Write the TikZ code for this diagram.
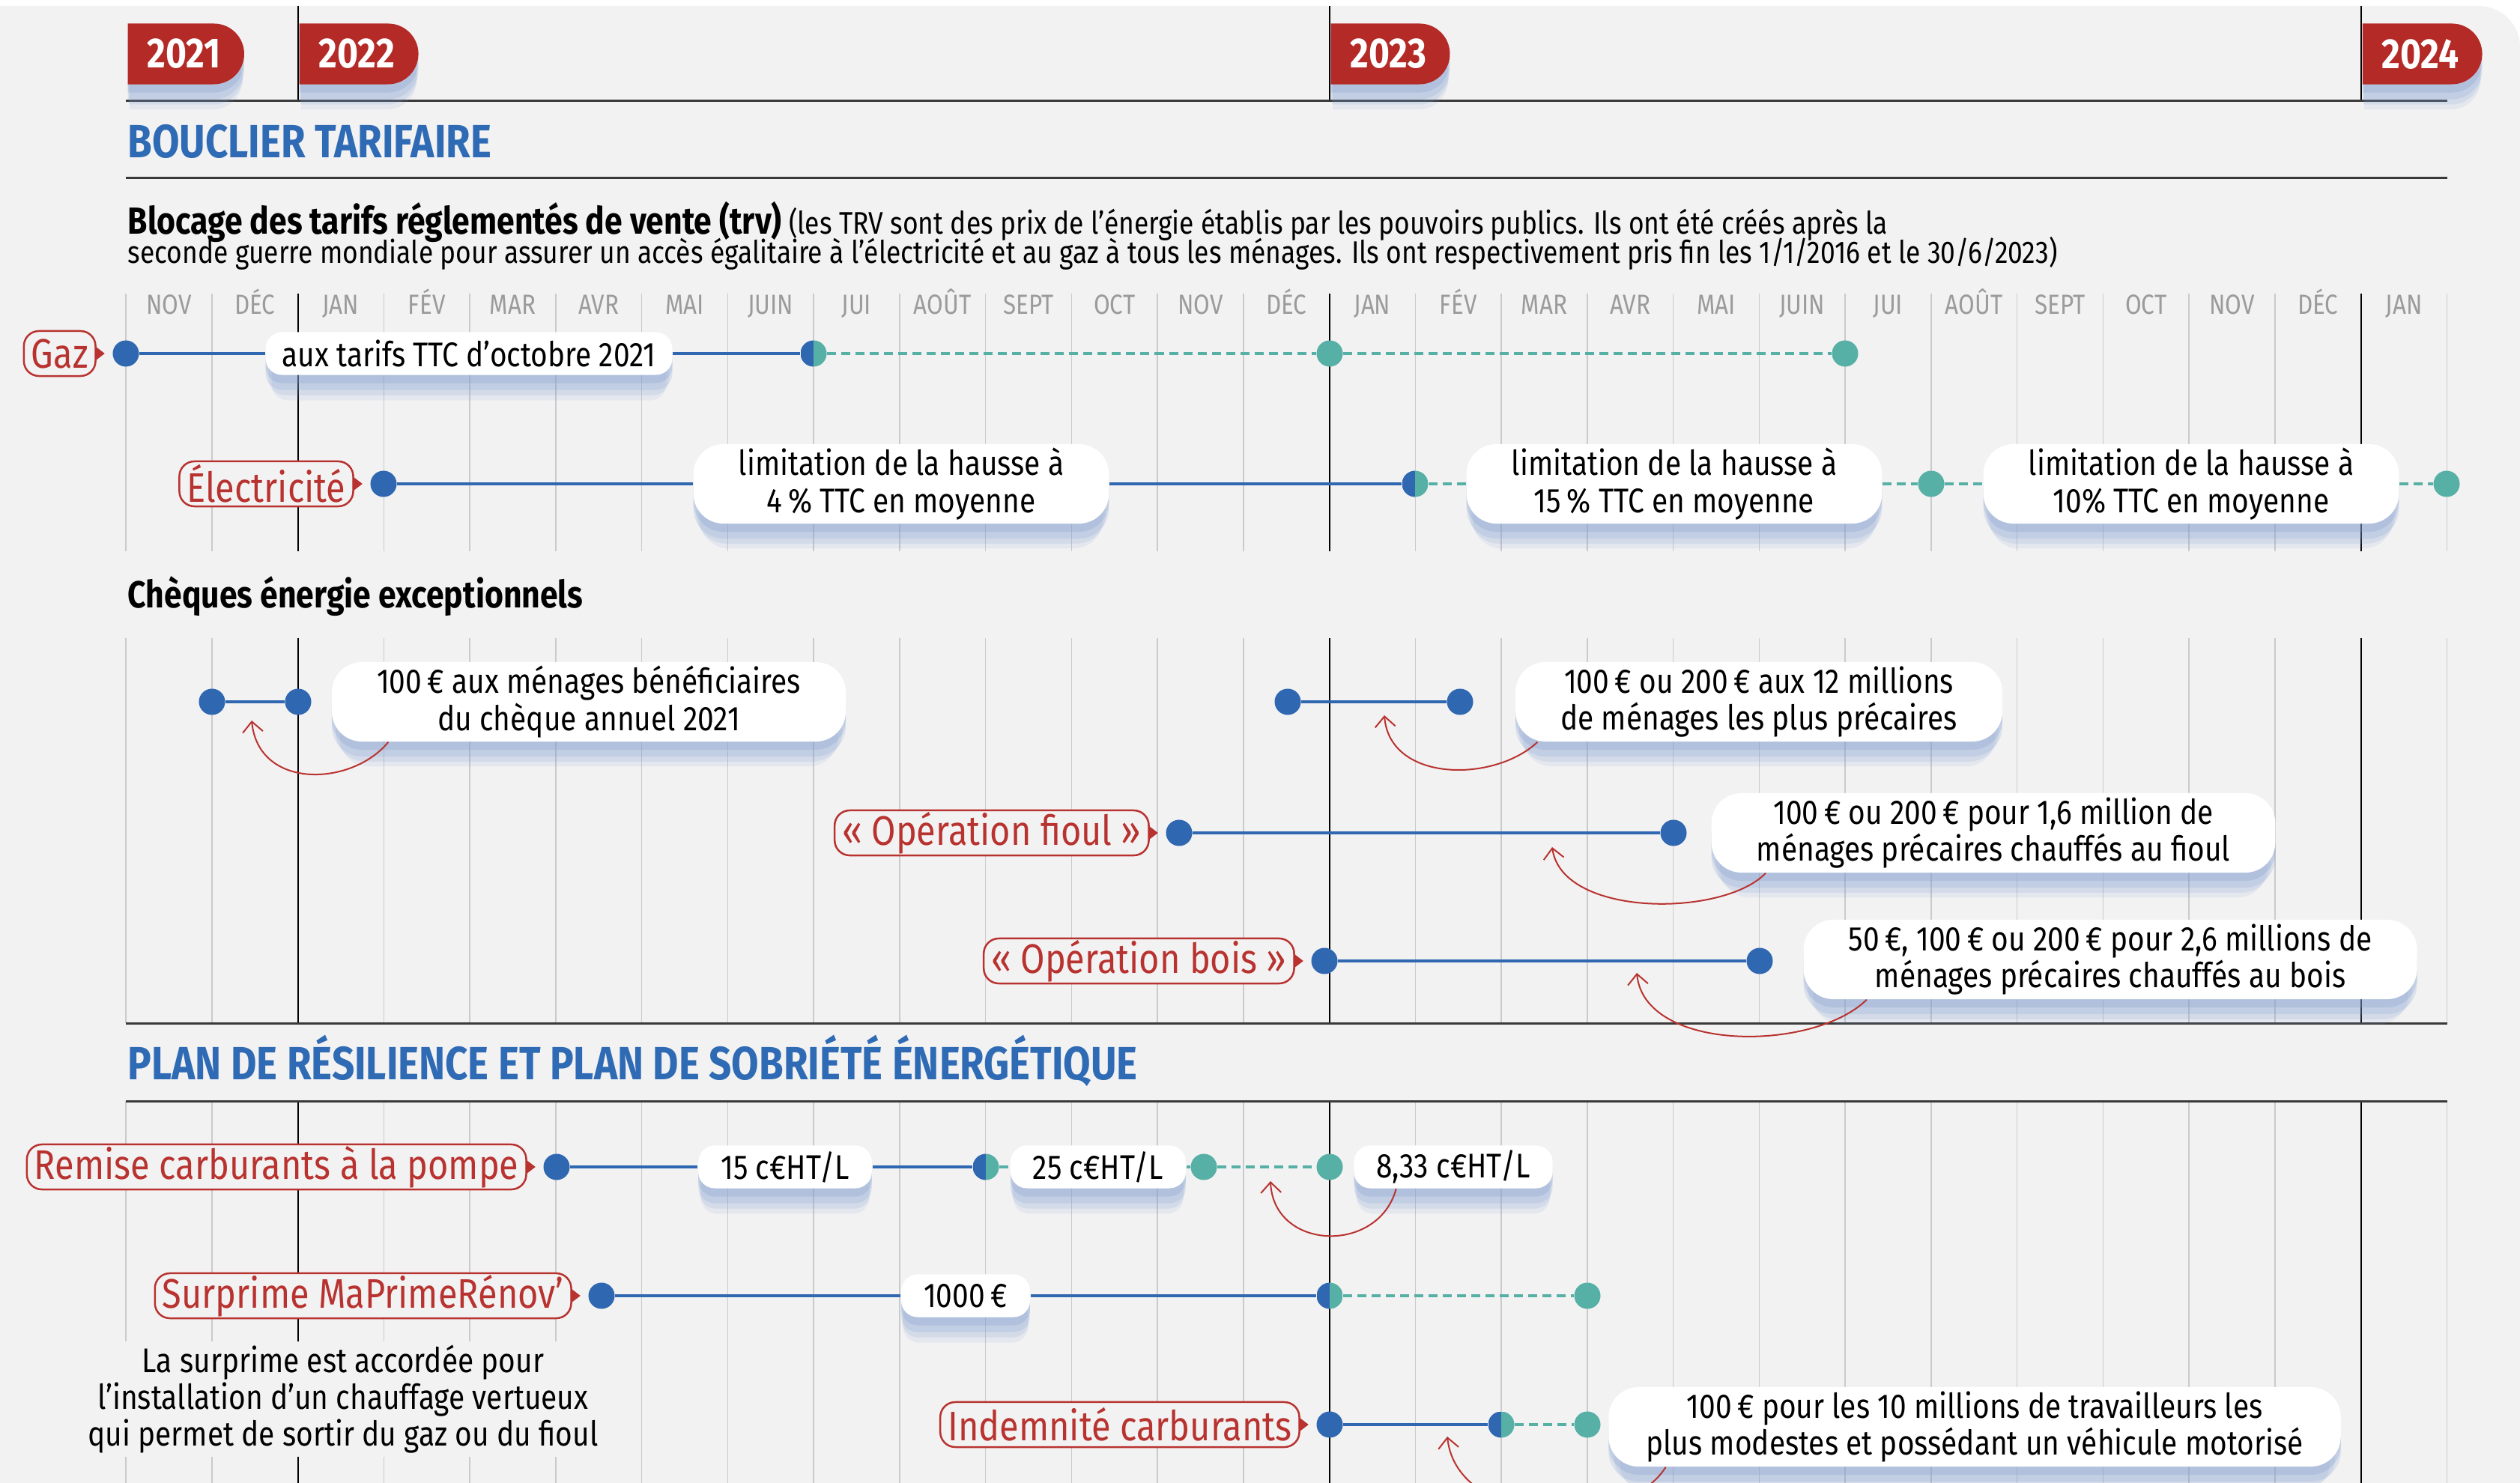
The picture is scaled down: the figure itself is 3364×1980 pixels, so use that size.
\documentclass[tikz,border=0pt]{standalone}
\usepackage{fontspec}
\setmainfont{Fira Sans}[FakeStretch=0.85]
\usepackage{tikz}
\usetikzlibrary{positioning,shapes.misc,shadows,arrows.meta}

\definecolor{bg}{HTML}{F3F2F3}
\definecolor{yearred}{HTML}{B42A26}
\definecolor{tagred}{HTML}{B8332F}
\definecolor{dotblue}{HTML}{2F67B1}
\definecolor{dotteal}{HTML}{57B0A5}
\definecolor{gridgrey}{HTML}{CAC9CC}
\definecolor{monthgrey}{HTML}{9B9B9B}
\definecolor{headblue}{HTML}{2F6BB5}
\definecolor{shadowblue}{HTML}{7F9ECF}
\definecolor{rulegrey}{HTML}{3A3A3A}

\newcommand{\boxfont}{\fontsize{13}{14}\selectfont}
\newcommand{\tagfont}{\fontsize{15.7}{16}\selectfont}
\newcommand{\monthfont}{\fontsize{10.5}{12}\selectfont}
\newcommand{\introfont}{\fontsize{11.85}{13}\selectfont}
\newcommand{\leadfont}{\fontsize{14.3}{15}\selectfont\bfseries}
\newcommand{\headfont}{\fontsize{17.7}{18}\selectfont\bfseries}
\newcommand{\yearfont}{\fontsize{16}{17}\selectfont\bfseries}

\begin{document}
\begin{tikzpicture}[x=0.01cm, y=-0.01cm,
    softshadow/.style={
        general shadow={shadow yshift=-0.36cm, shadow scale=0.97, fill=shadowblue, opacity=0.12},
        general shadow={shadow yshift=-0.28cm, shadow scale=0.985, fill=shadowblue, opacity=0.16},
        general shadow={shadow yshift=-0.20cm, fill=shadowblue, opacity=0.20},
        general shadow={shadow yshift=-0.11cm, fill=shadowblue, opacity=0.25}},
    gridline/.style={draw=gridgrey, line width=0.015cm},
    yearline/.style={draw=black, line width=0.02cm},
    rule/.style={draw=rulegrey, line width=0.03cm},
    monthlab/.style={text=monthgrey, font=\monthfont, anchor=base, inner sep=0pt},
    yeartag/.style={shape=rounded rectangle, rounded rectangle left arc=none, fill=yearred,
        text=white, font=\yearfont, minimum height=0.81cm, inner xsep=0.26cm, anchor=west, softshadow},
    tagbox/.style={draw=tagred, line width=0.025cm, fill=bg, text=tagred, rounded corners=0.2cm,
        minimum height=0.6cm, inner xsep=0.1cm, inner ysep=0pt, font=\tagfont},
    box/.style={fill=white, rounded corners=0.22cm, minimum height=0.57cm, inner xsep=0.3cm,
        inner ysep=0pt, font=\boxfont, softshadow},
    bigbox/.style={box, rounded corners=0.4cm, minimum height=1.06cm, inner xsep=0.6cm, align=center},
    dot/.style={circle, fill=dotblue, minimum size=0.35cm, inner sep=0pt},
    tdot/.style={dot, fill=dotteal},
    halfdot/.style={circle, minimum size=0.35cm, inner sep=0pt, path picture={
        \fill[dotblue] (path picture bounding box.south west) rectangle (path picture bounding box.north);
        \fill[dotteal] (path picture bounding box.south) rectangle (path picture bounding box.north east);}},
    bline/.style={draw=dotblue, line width=0.045cm},
    tline/.style={draw=dotteal, line width=0.045cm, dash pattern=on 0.12cm off 0.07cm},
    redarrow/.style={draw=tagred, line width=0.02cm, -{Straight Barb[length=0.14cm, width=0.27cm]}}]

    % page and panel
    \useasboundingbox (0,0) rectangle (3364,1980);
    \fill[white] (0,0) rectangle (3364,1980);
    \fill[bg, rounded corners=0.55cm] (-100,2100) -- (-100,8) -- (3364,8) -- (3364,2100) -- cycle;

    % month grid
    \foreach \k in {0,...,27}{
        \pgfmathsetmacro{\xk}{168+114.75*\k}
        \draw[gridline] (\xk,392) -- (\xk,736);
        \draw[gridline] (\xk,852) -- (\xk,1366);
        \draw[gridline] (\xk,1470) -- (\xk,1990);
    };
    \foreach \k in {2,14,26}{
        \pgfmathsetmacro{\xk}{168+114.75*\k}
        \draw[yearline] (\xk,8) -- (\xk,135);
        \draw[yearline] (\xk,392) -- (\xk,736);
        \draw[yearline] (\xk,852) -- (\xk,1366);
        \draw[yearline] (\xk,1470) -- (\xk,1990);
    };
    \foreach \lab [count=\k from 0] in {NOV,DÉC,JAN,FÉV,MAR,AVR,MAI,JUIN,JUI,AOÛT,SEPT,OCT,NOV,DÉC,JAN,FÉV,MAR,AVR,MAI,JUIN,JUI,AOÛT,SEPT,OCT,NOV,DÉC,JAN}{
        \pgfmathsetmacro{\xk}{168+114.75*\k+57.4}
        \node[monthlab] at (\xk,420) {\lab};
    };
    \draw[rule] (168,135) -- (3267,135);
    \draw[rule] (168,238) -- (3267,238);
    \draw[rule] (168,1366) -- (3267,1366);
    \draw[rule] (168,1470) -- (3267,1470);

    % years
    \node[yeartag] (y2021) at (170,72) {2021};
    \node[yeartag] (y2022) at (399,72) {2022};
    \node[yeartag] (y2023) at (1776,72) {2023};
    \node[yeartag] (y2024) at (3153,72) {2024};

    % headings
    \node[anchor=base west, inner sep=0pt, font=\headfont, text=headblue] (bouclier) at (170,211) {BOUCLIER TARIFAIRE};
    \node[anchor=base west, inner sep=0pt, font=\introfont] (blocage) at (170,313)
        {{\leadfont Blocage des tarifs réglementés de vente (trv)} (les TRV sont des prix de l’énergie établis par les pouvoirs publics. Ils ont été créés après la};
    \node[anchor=base west, inner sep=0pt, font=\introfont] (blocage2) at (170,352)
        {seconde guerre mondiale pour assurer un accès égalitaire à l’électricité et au gaz à tous les ménages. Ils ont respectivement pris fin les 1/1/2016 et le 30/6/2023)};
    \node[anchor=base west, inner sep=0pt, font=\leadfont] (cheques) at (170,812) {Chèques énergie exceptionnels};
    \node[anchor=base west, inner sep=0pt, font=\headfont, text=headblue] (plan) at (170,1441) {PLAN DE RÉSILIENCE ET PLAN DE SOBRIÉTÉ ÉNERGÉTIQUE};

    % gaz
    \node[dot] (gaz1) at (168,472) {};
    \node[tagbox, left=0.21cm of gaz1] (gaz) {Gaz};
    \node[box, inner xsep=0.22cm] (gazb) at (626,472) {aux tarifs TTC d’octobre 2021};
    \node[halfdot] (gaz2) at (1086,472) {};
    \node[tdot] (gaz3) at (1775,472) {};
    \node[tdot] (gaz4) at (2463,472) {};
    \draw[bline] (gaz1) -- (gazb) (gazb) -- (gaz2);
    \draw[tline] (gaz2) -- (gaz3) (gaz3) -- (gaz4);

    % electricite
    \node[dot] (elec1) at (512,646) {};
    \node[tagbox, left=0.21cm of elec1] (elec) {Électricité};
    \node[bigbox] (elecb1) at (1203,646) {limitation de la hausse à\\4\,\% TTC en moyenne};
    \node[halfdot] (elec2) at (1889,646) {};
    \node[bigbox] (elecb2) at (2235,646) {limitation de la hausse à\\15\,\% TTC en moyenne};
    \node[tdot] (elec3) at (2578,646) {};
    \node[bigbox] (elecb3) at (2925,646) {limitation de la hausse à\\10\% TTC en moyenne};
    \node[tdot] (elec4) at (3266,646) {};
    \draw[bline] (elec1) -- (elecb1) (elecb1) -- (elec2);
    \draw[tline] (elec2) -- (elecb2) (elecb2) -- (elec3) (elec3) -- (elecb3) (elecb3) -- (elec4);

    % cheques
    \node[dot] (ch1a) at (283,937) {};
    \node[dot] (ch1b) at (398,937) {};
    \node[bigbox] (ch1box) at (786,937) {100\,€ aux ménages bénéficiaires\\du chèque annuel 2021};
    \draw[bline] (ch1a) -- (ch1b);
    \coordinate (ch1tip) at (336,962);
    \draw[redarrow] ([xshift=0.76cm]ch1box.south west) .. controls (470,1050) and (345,1055) .. (ch1tip);

    \node[dot] (ch2a) at (1719,937) {};
    \node[dot] (ch2b) at (1949,937) {};
    \node[bigbox] (ch2box) at (2348,937) {100\,€ ou 200\,€ aux 12 millions\\de ménages les plus précaires};
    \draw[bline] (ch2a) -- (ch2b);
    \coordinate (ch2tip) at (1848,955);
    \draw[redarrow] ([xshift=0.3cm]ch2box.south west) .. controls (1995,1045) and (1855,1045) .. (ch2tip);

    \node[dot] (fioul1) at (1574,1112) {};
    \node[tagbox, left=0.21cm of fioul1] (fioul) {«~Opération fioul~»};
    \node[dot] (fioul2) at (2234,1112) {};
    \node[bigbox] (fioulbox) at (2661,1112) {100\,€ ou 200\,€ pour 1,6 million de\\ménages précaires chauffés au fioul};
    \draw[bline] (fioul1) -- (fioul2);
    \coordinate (fioultip) at (2072,1131);
    \draw[redarrow] ([xshift=0.73cm]fioulbox.south west) .. controls (2300,1225) and (2085,1225) .. (fioultip);

    \node[dot] (bois1) at (1768,1283) {};
    \node[tagbox, left=0.21cm of bois1] (bois) {«~Opération bois~»};
    \node[dot] (bois2) at (2349,1283) {};
    \node[bigbox] (boisbox) at (2817,1281) {50\,€, 100\,€ ou 200\,€ pour 2,6 millions de\\ménages précaires chauffés au bois};
    \draw[bline] (bois1) -- (bois2);
    \coordinate (boistip) at (2185,1299);
    \draw[redarrow] ([xshift=0.85cm]boisbox.south west) .. controls (2420,1405) and (2195,1405) .. (boistip);

    % remise carburants
    \node[dot] (remise1) at (743,1558) {};
    \node[tagbox, left=0.21cm of remise1] (remise) {Remise carburants à la pompe};
    \node[box] (rb1) at (1048,1558) {15 c€HT/L};
    \node[halfdot] (remise2) at (1316,1558) {};
    \node[box] (rb2) at (1466,1558) {25 c€HT/L};
    \node[tdot] (remise3) at (1607,1558) {};
    \node[tdot] (remise4) at (1775,1558) {};
    \node[box] (rb3) at (1940,1558) {8,33 c€HT/L};
    \draw[bline] (remise1) -- (rb1) (rb1) -- (remise2);
    \draw[tline] (remise2) -- (rb2) (rb2) -- (remise3) (remise3) -- (remise4);
    \coordinate (remisetip) at (1696,1577);
    \draw[redarrow] ([xshift=0.57cm]rb3.south west) .. controls (1840,1675) and (1700,1670) .. (remisetip);

    % surprime
    \node[dot] (sur1) at (803,1730) {};
    \node[tagbox, left=0.21cm of sur1] (surprime) {Surprime MaPrimeRénov’};
    \node[box] (surbox) at (1289,1730) {1000\,€};
    \node[halfdot] (sur2) at (1775,1730) {};
    \node[tdot] (sur3) at (2119,1730) {};
    \draw[bline] (sur1) -- (surbox) (surbox) -- (sur2);
    \draw[tline] (sur2) -- (sur3);
    \node[fill=bg, align=center, font=\boxfont, inner sep=0.05cm] (note) at (458,1868)
        {La surprime est accordée pour\\l’installation d’un chauffage vertueux\\qui permet de sortir du gaz ou du fioul};

    % indemnite
    \node[dot] (ind1) at (1775,1902) {};
    \node[tagbox, left=0.21cm of ind1] (indem) {Indemnité carburants};
    \node[halfdot] (ind2) at (2004,1902) {};
    \node[tdot] (ind3) at (2119,1902) {};
    \node[bigbox, inner xsep=0.5cm] (indbox) at (2636,1905) {100\,€ pour les 10 millions de travailleurs les\\plus modestes et possédant un véhicule motorisé};
    \draw[bline] (ind1) -- (ind2);
    \draw[tline] (ind2) -- (ind3);
    \coordinate (indtip) at (1932,1918);
    \draw[redarrow] ([xshift=0.77cm]indbox.south west) .. controls (2170,2045) and (1945,2040) .. (indtip);

    % pointers of the tags
    \foreach \t in {gaz,elec,fioul,bois,remise,surprime,indem}{
        \fill[tagred] (\t.east) ++(-2,-10) -- ++(13,10) -- ++(-13,10) -- cycle;
    };
\end{tikzpicture}
\end{document}
